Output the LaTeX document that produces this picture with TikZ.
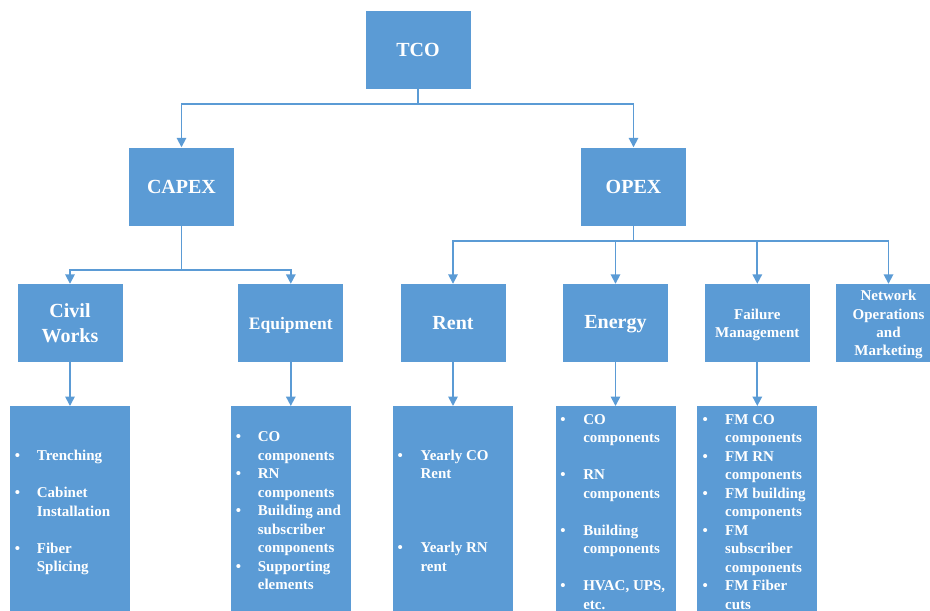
\documentclass[tikz,border=0pt]{standalone}
\usepackage{fontspec}
\setmainfont{Liberation Serif}
\usetikzlibrary{arrows.meta}
\definecolor{boxblue}{HTML}{5B9BD5}
\definecolor{lineblue}{HTML}{5B9BD5}
% lower a label inside its box without changing the box size
\newcommand{\lowerby}[2]{\raisebox{-#1}[\height][\depth]{#2}}

\begin{document}
\begin{tikzpicture}[x=1pt,y=-1pt,
  box/.style={fill=boxblue, minimum width=105pt, minimum height=78pt, inner sep=0pt,
    text=white, align=center, font=\bfseries\fontsize{20}{25}\selectfont},
  midfont/.style={font=\bfseries\fontsize{17.5}{21}\selectfont},
  smallfont/.style={font=\bfseries\fontsize{15}{18.3}\selectfont},
  listbox/.style={fill=boxblue, minimum width=120pt, minimum height=230pt, inner sep=0pt, anchor=north},
  items/.style={text=white, inner sep=0pt, anchor=base west,
    font=\bfseries\fontsize{15}{18.5}\selectfont},
  conn/.style={draw=lineblue, line width=1.7pt, -{Triangle[width=9.5pt,length=9.5pt]}}
]
\useasboundingbox (0,0) rectangle (930,611);
\clip (0,0) rectangle (930,611);

% top level
\node[box] (tco) at (418,50) {TCO};
\node[box] (capex) at (181.5,186.5) {CAPEX};
\node[box] (opex) at (633.5,186.5) {OPEX};

% second level
\node[box] (civil) at (70,323) {Civil\\Works};
\node[box, midfont] (equip) at (290.8,323) {\lowerby{2pt}{Equipment}};
\node[box] (rent) at (453,323) {Rent};
\node[box] (energy) at (615.5,323) {\lowerby{1pt}{Energy}};
\node[box, smallfont] (fail) at (757.3,323) {\lowerby{1.5pt}{\begin{tabular}{@{}c@{}}Failure\\Management\end{tabular}}};
\node[box, smallfont] (netops) at (888.5,323) {\lowerby{1.5pt}{\begin{tabular}{@{}c@{}}Network\\Operations\\and\\Marketing\end{tabular}}};

% detail boxes
\node[listbox] (civilL) at (70,406) {};
\node[listbox] (equipL) at (290.8,406) {};
\node[listbox] (rentL) at (453,406) {};
\node[listbox] (energyL) at (615.5,406) {};
\node[listbox] (failL) at (757.3,406) {};

\node[items] (civilT) at (14.7,460.5) {\begin{tabular}[t]{@{}p{22pt}@{}l@{}}
\textbullet & Trenching\\ & \\
\textbullet & Cabinet\\ & Installation\\ & \\
\textbullet & Fiber\\ & Splicing
\end{tabular}};

\node[items] (equipT) at (235.7,441.7) {\begin{tabular}[t]{@{}p{22pt}@{}l@{}}
\textbullet & CO\\ & components\\
\textbullet & RN\\ & components\\
\textbullet & Building and\\ & subscriber\\ & components\\
\textbullet & Supporting\\ & elements
\end{tabular}};

\node[items] (rentT) at (397.4,460.3) {\begin{tabular}[t]{@{}p{23pt}@{}l@{}}
\textbullet & Yearly CO\\ & Rent\\ & \\ & \\ & \\
\textbullet & Yearly RN\\ & rent
\end{tabular}};

\node[items] (energyT) at (560.1,424.3) {\begin{tabular}[t]{@{}p{23pt}@{}l@{}}
\textbullet & CO\\ & components\\ & \\
\textbullet & RN\\ & components\\ & \\
\textbullet & Building\\ & components\\ & \\
\textbullet & HVAC, UPS,\\ & etc.
\end{tabular}};

\node[items] (failT) at (702.4,424.3) {\begin{tabular}[t]{@{}p{22.6pt}@{}l@{}}
\textbullet & FM CO\\ & components\\
\textbullet & FM RN\\ & components\\
\textbullet & FM building\\ & components\\
\textbullet & FM\\ & subscriber\\ & components\\
\textbullet & FM Fiber\\ & cuts
\end{tabular}};

% connectors
\draw[conn] (tco.south) -- ++(0,15) -| (capex.north);
\draw[conn] (tco.south) -- ++(0,15) -| (opex.north);

\draw[conn] (capex.south) -- ++(0,44) -| (civil.north);
\draw[conn] (capex.south) -- ++(0,44) -| (equip.north);

\draw[conn] (opex.south) -- ++(0,15.5) -| (rent.north);
\draw[conn] (opex.south) -- ++(0,15.5) -| (energy.north);
\draw[conn] (opex.south) -- ++(0,15.5) -| (fail.north);
\draw[conn] (opex.south) -- ++(0,15.5) -| (netops.north);

\draw[conn] (civil.south) -- (civilL.north);
\draw[conn] (equip.south) -- (equipL.north);
\draw[conn] (rent.south) -- (rentL.north);
\draw[conn] (energy.south) -- (energyL.north);
\draw[conn] (fail.south) -- (failL.north);
\end{tikzpicture}
\end{document}
